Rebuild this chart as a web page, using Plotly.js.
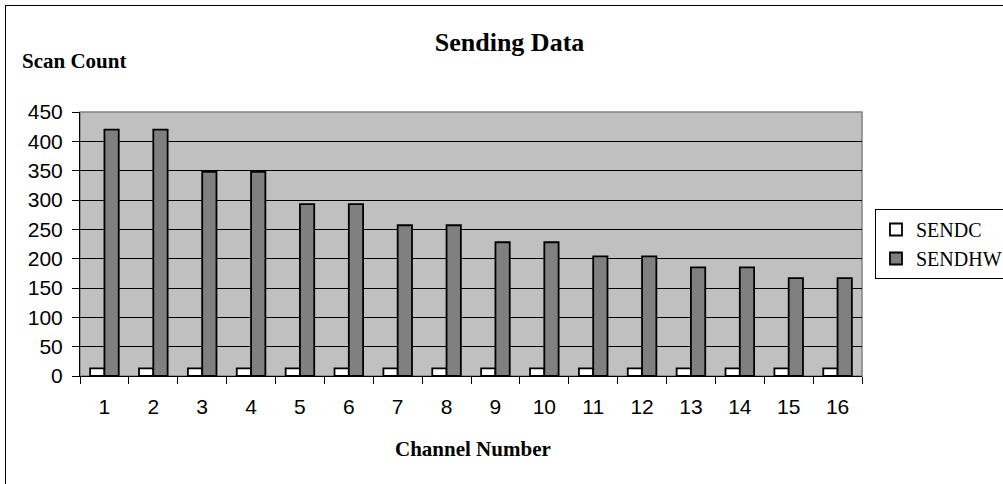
<!DOCTYPE html>
<html><head><meta charset="utf-8">
<script src="https://cdn.plot.ly/plotly-3.0.1.min.js"></script>
<style>html,body{margin:0;padding:0;background:#fff;overflow:hidden}
#frame{position:absolute;left:5px;top:5px;width:1010px;height:490px;border:1px solid #000;box-sizing:border-box}
#chart{position:absolute;left:0;top:0;width:1003px;height:484px}</style>
</head><body><div id="frame"></div><div id="chart"></div>
<script>
const channels = ['1','2','3','4','5','6','7','8','9','10','11','12','13','14','15','16'];
const sendc = [13,13,13,13,13,13,13,13,13,13,13,13,13,13,13,13];
const sendhw = [420,420,348,348,293,293,257,257,228,228,204,204,185,185,167,167];
const yTicks = [0,50,100,150,200,250,300,350,400,450];

const traces = [
  {type:'bar', name:'SENDC', legendgroup:'a', x:channels, y:sendc,
   marker:{color:'#ffffff', line:{color:'#000', width:1.8}}},
  {type:'bar', name:'SENDHW', legendgroup:'b', x:channels, y:sendhw,
   marker:{color:'#808080', line:{color:'#000', width:1.8}}}
];
const layout = {
  width:1003, height:484,
  margin:{l:80, r:141, t:112, b:108, autoexpand:false},
  paper_bgcolor:'rgba(0,0,0,0)', plot_bgcolor:'#c0c0c0',
  barmode:'group', bargap:0.415, bargroupgap:0,
  showlegend:true,
  legend:{x:1.0166, xanchor:'left', y:0.5, yanchor:'middle', bgcolor:'#fff',
    bordercolor:'#000', borderwidth:1, font:{family:'Liberation Serif', size:20, color:'#000'},
    tracegroupgap:14, itemwidth:30, traceorder:'normal'},
  title:{text:'<b>Sending Data</b>', x:0.508, xanchor:'center', y:0.913, yanchor:'middle',
    font:{family:'Liberation Serif', size:26, color:'#000'}},
  xaxis:{type:'category', tickson:'boundaries', ticks:'outside', ticklen:7, tickcolor:'#000',
    showline:true, linecolor:'#000', linewidth:1, showgrid:false,
    ticklabelstandoff:12, tickfont:{family:'Liberation Sans', size:21, color:'#000'}},
  yaxis:{range:[0,450], tickvals:yTicks, ticks:'outside', ticklen:7, tickcolor:'#000',
    showline:true, linecolor:'#000', linewidth:1, showgrid:true, gridcolor:'#000', gridwidth:1,
    zeroline:false, ticklabelstandoff:5, tickfont:{family:'Liberation Sans', size:21, color:'#000'}},
  shapes:[{type:'rect', xref:'paper', yref:'paper', x0:0, x1:1, y0:0, y1:1,
    line:{color:'#808080', width:1.5}, layer:'below'}],
  annotations:[
    {text:'<b>Scan Count</b>', xref:'paper', yref:'paper', x:-0.0767, y:1.192, xanchor:'left', yanchor:'middle',
     showarrow:false, font:{family:'Liberation Serif', size:21, color:'#000'}},
    {text:'<b>Channel Number</b>', xref:'paper', yref:'paper', x:0.503, y:-0.277, xanchor:'center', yanchor:'middle',
     showarrow:false, font:{family:'Liberation Serif', size:21, color:'#000'}}
  ]
};
Plotly.newPlot('chart', traces, layout, {displayModeBar:false, staticPlot:true});
</script></body></html>
